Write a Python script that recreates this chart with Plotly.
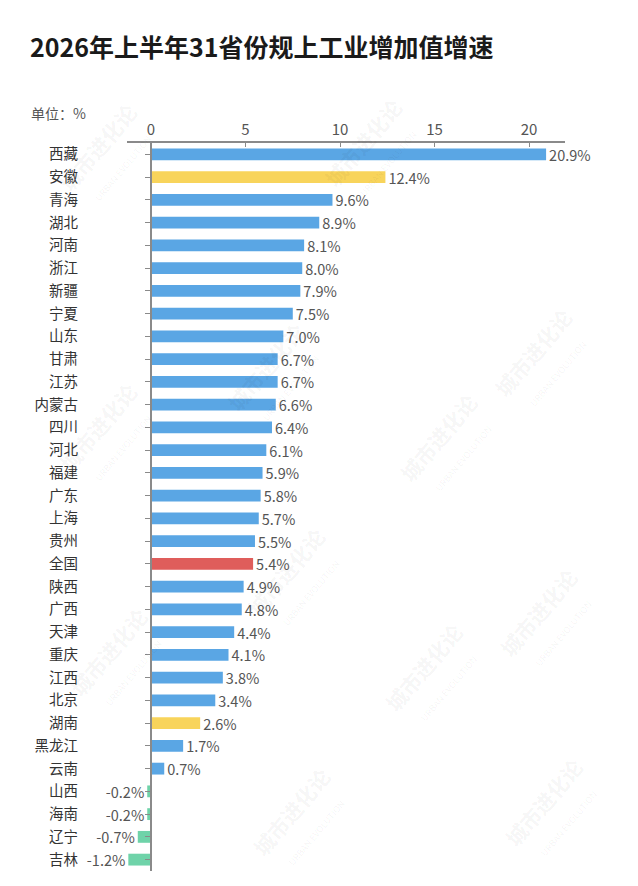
import plotly.graph_objects as go

provinces = ["西藏", "安徽", "青海", "湖北", "河南", "浙江", "新疆", "宁夏", "山东", "甘肃",
             "江苏", "内蒙古", "四川", "河北", "福建", "广东", "上海", "贵州", "全国", "陕西",
             "广西", "天津", "重庆", "江西", "北京", "湖南", "黑龙江", "云南", "山西", "海南",
             "辽宁", "吉林"]
growth = [20.9, 12.4, 9.6, 8.9, 8.1, 8.0, 7.9, 7.5, 7.0, 6.7,
          6.7, 6.6, 6.4, 6.1, 5.9, 5.8, 5.7, 5.5, 5.4, 4.9,
          4.8, 4.4, 4.1, 3.8, 3.4, 2.6, 1.7, 0.7, -0.2, -0.2,
          -0.7, -1.2]
x_ticks = [0, 5, 10, 15, 20]

BLUE = "#5AA6E4"
YELLOW = "#F8D45B"
RED = "#DF5D5B"
GREEN = "#6FD3A9"
special = {"安徽": YELLOW, "湖南": YELLOW, "全国": RED}
colors = [special.get(p, GREEN if v < 0 else BLUE) for p, v in zip(provinces, growth)]

x_range = [-1.27, 21.9]
n = len(provinces)
y_range = [n - 0.5, -0.5]

# page body has an 8px default margin; build the figure in page-offset coordinates
OFF = 8
W, H = 638 - OFF, 886 - OFF
L, T = 127 - OFF, 143 - OFF
R = W - (565 - OFF)
B = H - (871 - OFF)
pw, ph = W - L - R, H - T - B

fig = go.Figure()
fig.add_trace(go.Bar(
    y=provinces, x=growth, orientation="h",
    marker=dict(color=colors, line=dict(width=0)),
    width=0.52,
    texttemplate="%{x:.1f}%", textposition="outside",
    textfont=dict(size=14.5, color="#555555", family="Noto Sans CJK SC"),
    constraintext="none", cliponaxis=False,
    hoverinfo="skip",
))
# invisible trace carrying the zero-line axis with category ticks
fig.add_trace(go.Scatter(
    y=provinces, x=[0] * n, yaxis="y2", mode="markers",
    marker=dict(opacity=0, size=1), hoverinfo="skip", showlegend=False,
))

zero_pos = (0 - x_range[0]) / (x_range[1] - x_range[0])

fig.update_layout(
    width=W, height=H,
    margin=dict(l=L, r=R, t=T, b=B, autoexpand=False),
    paper_bgcolor="white", plot_bgcolor="white",
    showlegend=False,
    font=dict(family="Noto Sans CJK SC", color="#333333"),
    title=dict(
        text="<b>2026年上半年31省份规上工业增加值增速</b>",
        xref="container", yref="container", x=(30 - OFF) / W, xanchor="left",
        y=1 - (48 - OFF) / H, yanchor="middle",
        font=dict(size=25, color="#1a1a1a", family="Noto Sans CJK SC"),
    ),
    xaxis=dict(
        side="top", range=x_range, tickvals=x_ticks, automargin=False,
        showgrid=False, zeroline=False,
        showline=True, linecolor="#8a8a8a", linewidth=1.5,
        ticks="inside", ticklen=4, tickcolor="#8a8a8a",
        tickfont=dict(size=15, color="#555555", family="Noto Sans CJK SC"),
    ),
    yaxis=dict(
        type="category", categoryorder="array", categoryarray=provinces,
        range=y_range, automargin=False,
        showgrid=False, zeroline=False, showline=False,
        ticks="", ticklabelstandoff=48,
        tickfont=dict(size=14.5, color="#333333", family="Noto Sans CJK SC"),
    ),
    yaxis2=dict(
        overlaying="y", matches="y", anchor="free", position=zero_pos,
        automargin=False,
        side="left", showticklabels=False, showgrid=False, zeroline=False,
        showline=True, linecolor="#8a8a8a", linewidth=1.5,
        ticks="outside", ticklen=5, tickcolor="#8a8a8a",
    ),
)

fig.add_annotation(
    text="单位：%", xref="paper", yref="paper",
    x=(29 - 127) / pw, y=(871 - 113) / ph, xanchor="left", yanchor="middle",
    showarrow=False, font=dict(size=14, color="#555555", family="Noto Sans CJK SC"),
)

# faint watermarks (positions in reference page pixels)
wm_positions = [(50, 95), (430, 90), (275, 315), (600, 300), (50, 435), (505, 445),
                (295, 580), (605, 620), (60, 720), (490, 735), (300, 880), (610, 870)]
for px, py in wm_positions:
    fig.add_annotation(
        text="<b>城市进化论</b><br><span style='font-size:9px'>URBAN EVOLUTION</span>",
        xref="paper", yref="paper",
        x=(px - 127) / pw, y=(871 - py) / ph,
        showarrow=False, textangle=-50,
        font=dict(size=21, color="rgba(0,0,0,0.05)", family="Noto Sans CJK SC"),
    )

fig.write_html("out.html")
